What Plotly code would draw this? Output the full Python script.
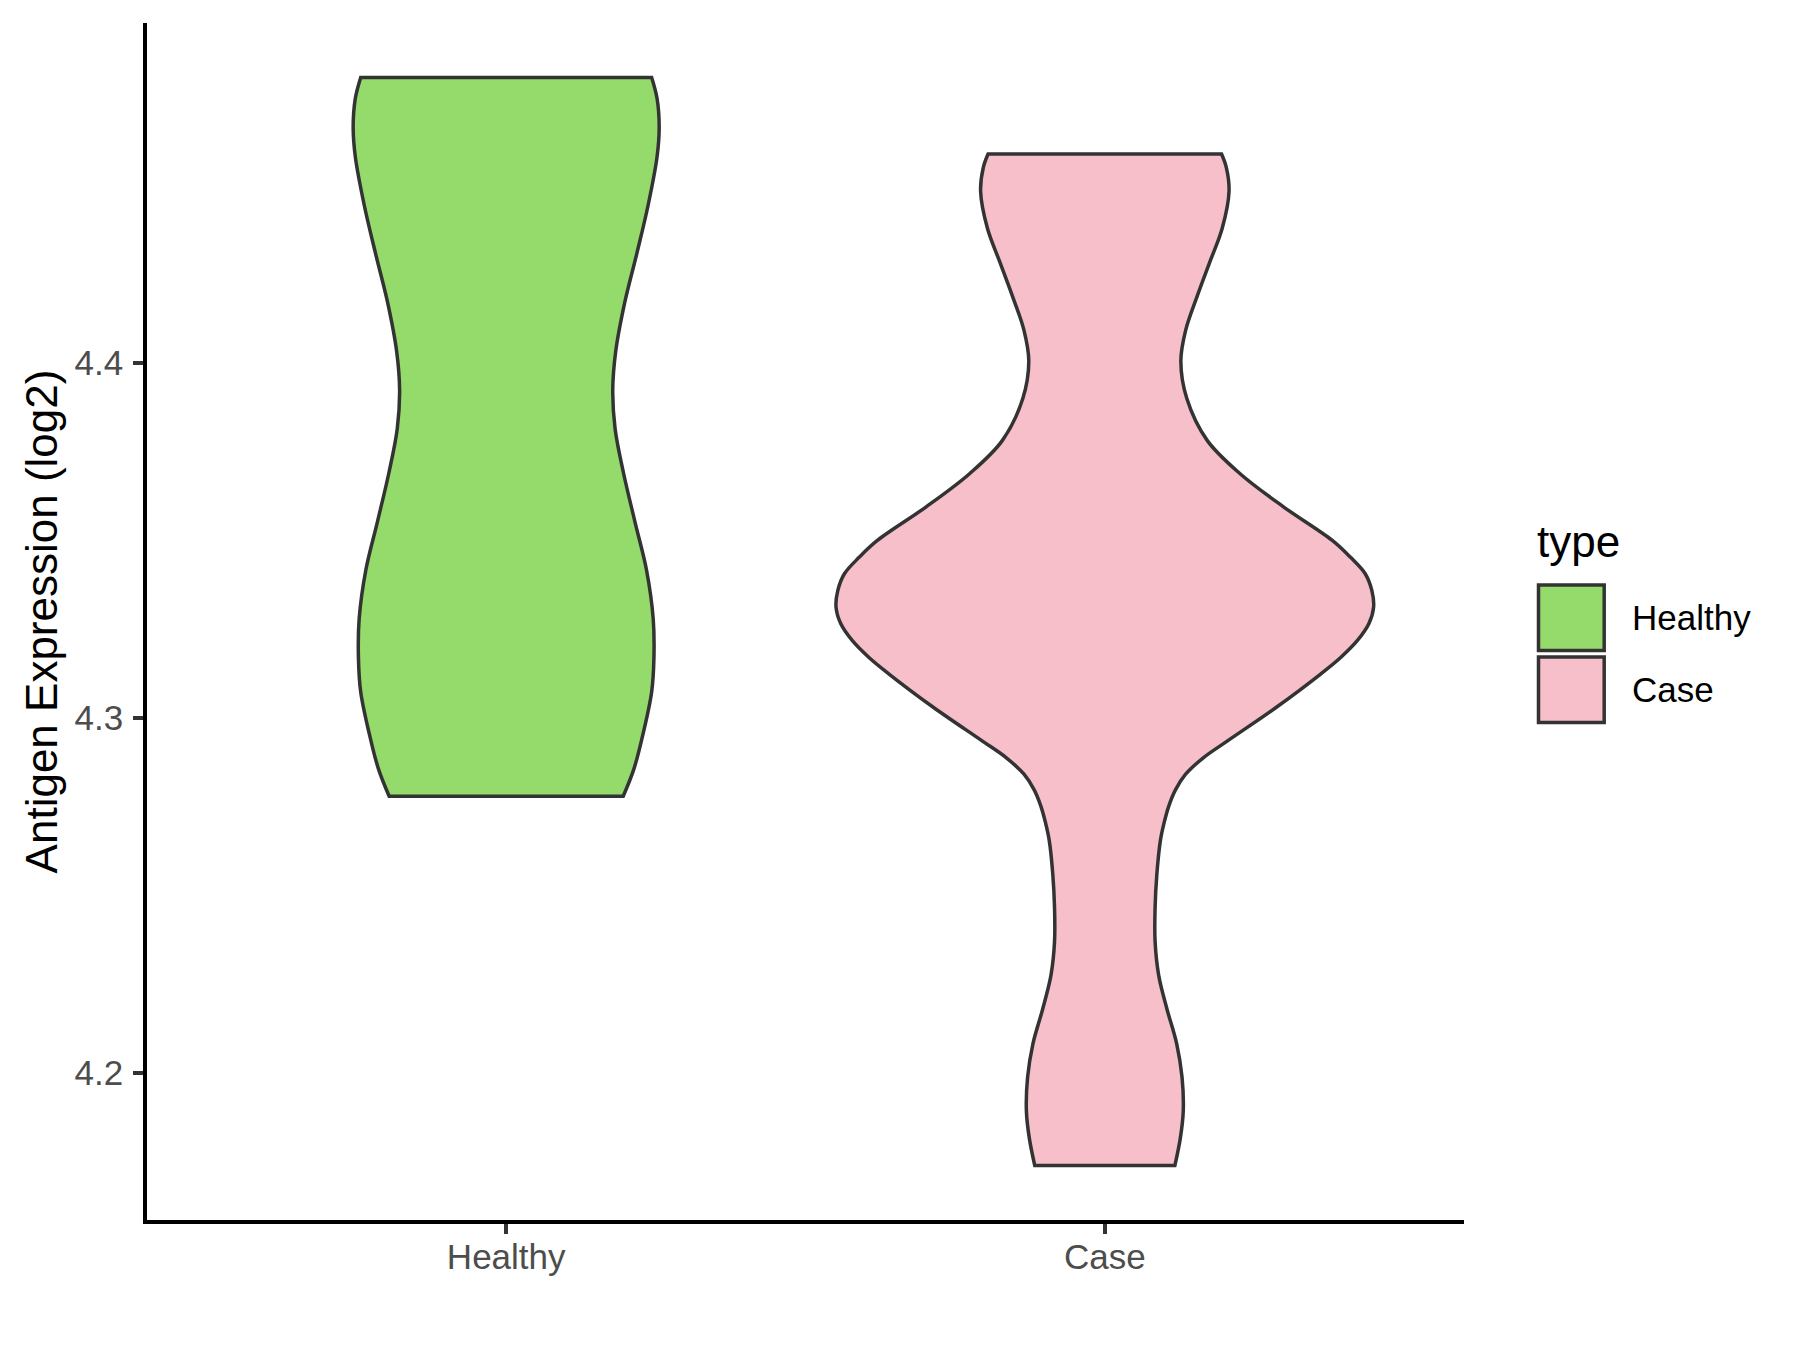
import plotly.graph_objects as go

# ---------------- data ----------------
categories = ["Healthy", "Case"]
positions = [1, 2]
fill_colors = ["#94DB6B", "#F7BFCA"]

# density outline of each violin: y level (log2 expression) and half-width (category units)
healthy_y = [4.4805, 4.4746, 4.4664, 4.4581, 4.4444, 4.4307, 4.4170, 4.4033, 4.3923,
             4.3814, 4.3690, 4.3553, 4.3416, 4.3279, 4.3169, 4.3073, 4.2936, 4.2854, 4.2779]
healthy_hw = [0.243, 0.252, 0.2556, 0.252, 0.237, 0.218, 0.198, 0.183, 0.178,
              0.182, 0.196, 0.215, 0.2345, 0.2456, 0.2468, 0.243, 0.226, 0.213, 0.1955]

case_y = [4.4589, 4.4551, 4.4484, 4.4379, 4.4283, 4.4187, 4.4092, 4.4005, 4.3900,
          4.3782, 4.3688, 4.3594, 4.3500, 4.3453, 4.3406, 4.3359, 4.3312, 4.3265,
          4.3218, 4.3170, 4.3124, 4.3029, 4.2935, 4.2888, 4.2841, 4.2797, 4.2752,
          4.2704, 4.2656, 4.2561, 4.2465, 4.2369, 4.2274, 4.2178, 4.2082, 4.1987,
          4.1891, 4.1814, 4.1738]
case_hw = [0.195, 0.203, 0.2075, 0.196, 0.175, 0.154, 0.135, 0.127, 0.137,
           0.171, 0.226, 0.299, 0.380, 0.410, 0.435, 0.446, 0.449, 0.441,
           0.422, 0.394, 0.361, 0.286, 0.205, 0.165, 0.135, 0.118, 0.107,
           0.099, 0.093, 0.087, 0.084, 0.084, 0.090, 0.104, 0.120, 0.129,
           0.131, 0.126, 0.117]

y_ticks = [4.2, 4.3, 4.4]
y_tick_labels = ["4.2", "4.3", "4.4"]
y_title = "Antigen Expression (log2)"
legend_title = "type"

# ---------------- figure ----------------
W, H = 1800, 1350
OFF = 8  # default page body margin
L, R, T, B = 147 - OFF, 336 + OFF, 23 - OFF, 130 + OFF
OUTLINE = "#333333"

fig = go.Figure()

profiles = [(healthy_y, healthy_hw), (case_y, case_hw)]
for name, pos, col, (ys, hws) in zip(categories, positions, fill_colors, profiles):
    rx = [pos + w for w in hws]
    lx = [pos - w for w in hws]
    # right side downwards, left side upwards; corners doubled so the spline keeps them sharp
    xs = [rx[0]] + rx + [rx[-1], lx[-1]] + lx[::-1] + [lx[0], rx[0]]
    yy = [ys[0]] + list(ys) + [ys[-1], ys[-1]] + list(ys)[::-1] + [ys[0], ys[0]]
    fig.add_trace(go.Scatter(
        x=xs, y=yy, mode="lines", fill="toself", fillcolor=col,
        line=dict(color=OUTLINE, width=3.5, shape="spline", smoothing=1.0, simplify=False),
        name=name, showlegend=False, hoverinfo="name",
    ))

ymin = min(min(healthy_y), min(case_y))
ymax = max(max(healthy_y), max(case_y))
pad = (ymax - ymin) * 0.05

fig.update_layout(
    width=W, height=H,
    margin=dict(l=L, r=R, t=T, b=B),
    paper_bgcolor="white", plot_bgcolor="white",
    font=dict(family="Liberation Sans, Arial, sans-serif", color="black"),
    xaxis=dict(
        range=[0.4, 2.6], tickvals=positions, ticktext=categories,
        showline=True, linecolor="black", linewidth=3.5, mirror=False,
        ticks="outside", ticklen=10, tickwidth=3.5, tickcolor=OUTLINE,
        tickfont=dict(size=35, color="#4D4D4D"), ticklabelstandoff=-7,
        showgrid=False, zeroline=False,
    ),
    yaxis=dict(
        range=[ymin - pad, ymax + pad], tickvals=y_ticks, ticktext=y_tick_labels,
        showline=True, linecolor="black", linewidth=3.5,
        ticks="outside", ticklen=10, tickwidth=3.5, tickcolor=OUTLINE,
        tickfont=dict(size=35, color="#4D4D4D"), ticklabelstandoff=3,
        title=dict(text=y_title, font=dict(size=44, color="black"), standoff=4),
        showgrid=False, zeroline=False,
    ),
)

# ---------------- legend (ggplot-style keys), positions in page pixels ----------------
pw, ph = W - L - R, H - T - B
def px(x):
    return (x - OFF - L) / pw
def py(y):
    return (H - B - (y - OFF)) / ph

fig.add_annotation(x=px(1535), y=py(541), xref="paper", yref="paper",
                   text=legend_title, showarrow=False, xanchor="left", yanchor="middle",
                   font=dict(size=44, color="black"))
key_top = 585
key_h = 65.5
key_step = 72
for i, (name, col) in enumerate(zip(categories, fill_colors)):
    y0 = key_top + i * key_step
    fig.add_shape(type="rect", xref="paper", yref="paper",
                  x0=px(1538.5), x1=px(1604.2), y0=py(y0 + key_h), y1=py(y0),
                  fillcolor=col, line=dict(color=OUTLINE, width=3.5))
    fig.add_annotation(x=px(1630), y=py(y0 + key_h / 2), xref="paper", yref="paper",
                       text=name, showarrow=False, xanchor="left", yanchor="middle",
                       font=dict(size=35, color="black"))

fig.write_html("out.html")
